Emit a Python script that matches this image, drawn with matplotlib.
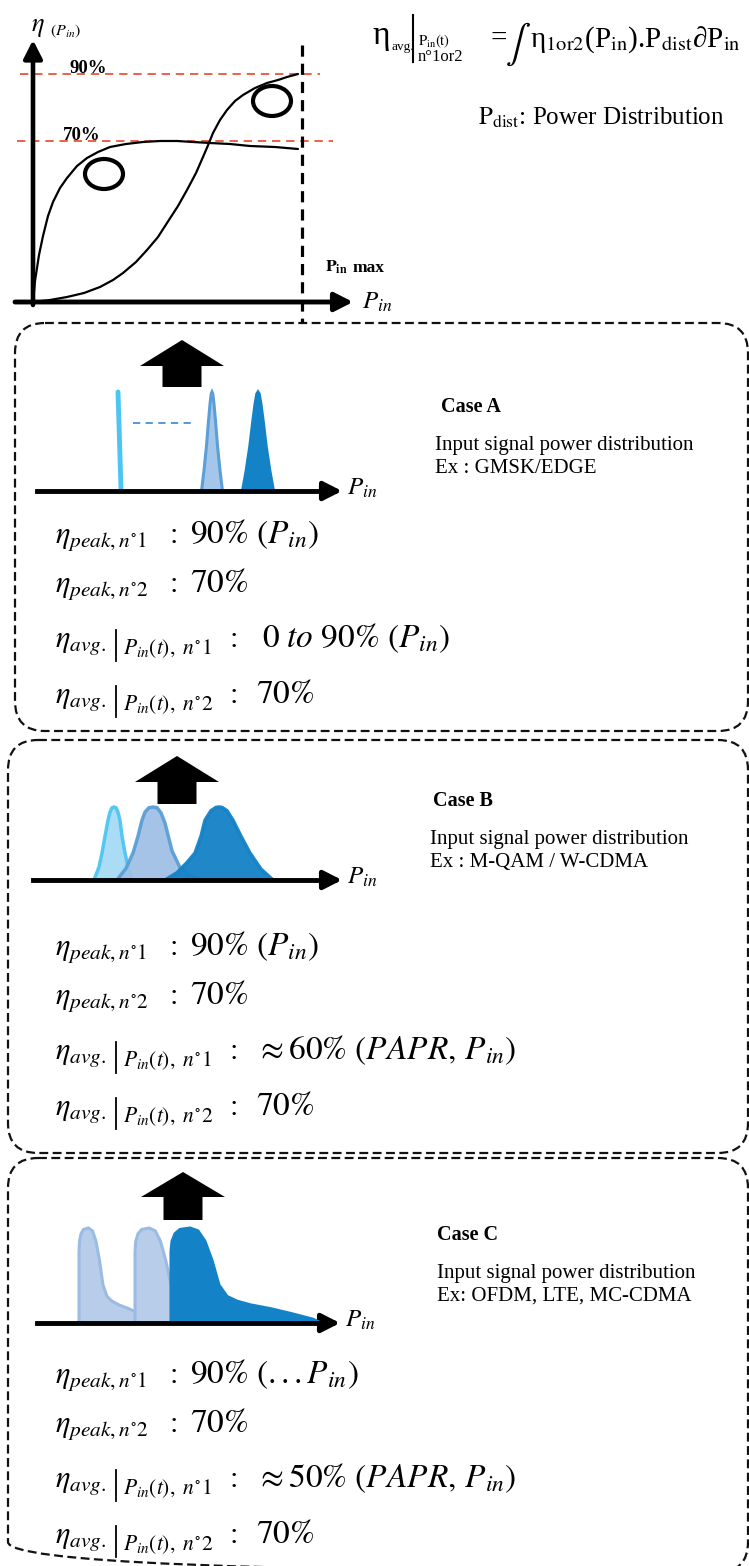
import numpy as np
import matplotlib.pyplot as plt
from matplotlib.patches import FancyBboxPatch, Polygon, Ellipse

plt.rcParams['font.family'] = ['Liberation Serif', 'DejaVu Serif']
plt.rcParams['mathtext.fontset'] = 'stix'

W, H = 749, 1566

# efficiency curves of the two amplifiers (canvas pixels)
curve1_x = [33, 34, 35, 37, 39, 43, 48, 53, 60, 67, 77, 87, 98, 110, 126, 143, 160, 177, 193, 210, 230, 250, 275, 298]
curve1_y = [302, 292, 281, 268, 255, 236, 216, 202, 188, 178, 166, 158, 152, 147, 144, 142, 141, 141, 142, 143, 144, 146, 147, 149]
curve2_x = [33, 50, 67, 84, 100, 113, 123, 136, 147, 158, 167, 178, 187, 196, 203, 209, 213, 220, 227, 235, 243, 255, 267, 278, 287, 298]
curve2_y = [302, 300, 297, 293, 287, 280, 273, 262, 250, 237, 223, 206, 190, 173, 157, 143, 133, 120, 110, 101, 95, 88, 83, 80, 77, 74]
level_labels = ['90%', '70%']
level_y = [74, 141]
level_x = [(20, 320), (17, 333)]
level_text_x = [70, 63]
ellipse_c = [(104, 174), (272, 101)]

# dashed boxes (left, top, right, bottom)
boxes = [(15, 323, 748, 731), (8, 740, 748, 1153), (8, 1158, 748, 1572)]

# up arrows per case
arrow_cx = [182, 177, 183]
arrow_tip = [340, 756, 1172]
arrow_base = [366, 782, 1197]
arrow_bottom = [387, 804, 1220]

# distribution axis per case
axis_y = [491, 880, 1323]
axis_x0 = [37, 33, 37]
axis_tip = [342, 342, 340]

# case A: narrow peaks
peak_frac_dx = [-1, -0.77, -0.53, -0.34, -0.19, -0.08, 0, 0.08, 0.19, 0.34, 0.53, 0.77, 1]
peak_frac_h = [0, 0.2, 0.45, 0.7, 0.88, 0.98, 1, 0.98, 0.88, 0.7, 0.45, 0.2, 0]
caseA_peak_c = [212, 258]
caseA_peak_hw = [10.5, 15.5]
caseA_peak_h = 99

# case B: bell shapes (offset from centre, fraction of height)
caseB_c = [114, 153, 219]
caseB_h = 73
caseB_dx = [
    [-20, -15, -12, -9, -6, -4, -2, 0, 2, 4, 6, 8, 11, 14, 18],
    [-36, -27, -20, -15, -11, -8, -4, 0, 4, 8, 12, 19, 27, 37, 48],
    [-54, -42, -32, -24, -18, -14, -8, -3, 0, 3, 8, 14, 22, 31, 42, 54],
]
caseB_fh = [
    [0, 0.18, 0.37, 0.6, 0.82, 0.93, 0.99, 1, 0.99, 0.93, 0.82, 0.6, 0.37, 0.18, 0],
    [0, 0.16, 0.37, 0.6, 0.82, 0.93, 0.99, 1, 0.99, 0.92, 0.78, 0.4, 0.17, 0.05, 0],
    [0, 0.1, 0.24, 0.37, 0.6, 0.82, 0.95, 0.995, 1, 0.995, 0.95, 0.82, 0.6, 0.37, 0.15, 0],
]

# case C: skewed (OFDM-like) shape, offset from rising edge
caseC_dx = [0, 0, 1, 4, 9, 19, 27, 34, 41, 48, 56, 66, 80, 100, 120, 142, 150]
caseC_fh = [0, 0.75, 0.86, 0.94, 0.985, 1.0, 0.97, 0.86, 0.66, 0.4, 0.28, 0.23, 0.19, 0.15, 0.1, 0.04, 0]
caseC_start = [79, 135, 171]
caseC_scale = [0.5, 0.75, 1.0]
caseC_h = 95

case_titles = ['Case A', 'Case B', 'Case C']
case_examples = ['Ex : GMSK/EDGE', 'Ex : M-QAM / W-CDMA', 'Ex: OFDM, LTE, MC-CDMA']
case_text_x = [(441, 435), (433, 430), (437, 437)]
case_text_y = [412, 806, 1240]

# efficiency statements
peak1_vals = [r'$90\%\ (P_{in})$', r'$90\%\ (P_{in})$', r'$90\%\ (...P_{in})$']
peak2_vals = [r'$70\%$'] * 3
avg1_vals = [r'$0\ to\ 90\%\ (P_{in})$', r'$\approx 60\%\ (PAPR,\, P_{in})$', r'$\approx 50\%\ (PAPR,\, P_{in})$']
avg1_x = [262, 256, 256]
avg2_vals = [r'$70\%$'] * 3
metric_y = [543, 955, 1383]

RED = '#e9452a'
CYAN = '#4dc5f2'
MID = '#5b9fd6'
DARK = '#1482c6'

fig = plt.figure(figsize=(W / 100, H / 100), dpi=100)
ax = fig.add_axes([0, 0, 1, 1])
ax.set_xlim(0, W)
ax.set_ylim(H, 0)
ax.axis('off')


def arrow_line(x0, y0, x1, y1, lw=3.5):
    ax.annotate('', xy=(x1, y1), xytext=(x0, y0),
                arrowprops=dict(arrowstyle='-|>,head_length=0.55,head_width=0.28',
                                lw=lw, color='black', shrinkA=0, shrinkB=0,
                                mutation_scale=20))


# ---- top efficiency chart
for lab, y, (xa, xb), tx in zip(level_labels, level_y, level_x, level_text_x):
    ax.plot([xa, xb], [y, y], color=RED, lw=1.2, ls=(0, (5, 3.5)), zorder=1)
    ax.text(tx, y - 1, lab, fontsize=13.5, fontweight='bold', va='baseline')

ax.plot([302, 302], [45, 322], color='black', lw=2.3, ls=(0, (3.5, 2.2)))
ax.plot(curve1_x, curve1_y, color='black', lw=1.6, solid_capstyle='round')
ax.plot(curve2_x, curve2_y, color='black', lw=1.6, solid_capstyle='round')
for c in ellipse_c:
    ax.add_patch(Ellipse(c, 38, 30, fill=False, lw=3, ec='black'))
arrow_line(33, 305, 33, 40, lw=3.3)
arrow_line(15, 302, 353, 302, lw=3.5)
ax.text(31, 31, r'$\eta$', fontsize=19, va='baseline')
ax.text(50, 35, r'$(P_{in})$', fontsize=11.5, va='baseline')
ax.text(362, 309, r'$P_{in}$', fontsize=18, va='baseline')
ax.text(325, 272, r'$\mathbf{P_{in}}$', fontsize=12.5, va='baseline')
ax.text(353, 272, 'max', fontsize=12.5, fontweight='bold', va='baseline')

# formula at top right
ax.text(372, 44, 'η', fontsize=24, va='baseline')
ax.text(392, 50, 'avg.', fontsize=9.5, va='baseline')
ax.plot([413, 413], [15, 62], color='black', lw=1.5)
ax.text(418, 45, r'$\mathrm{P_{in}(t)}$', fontsize=10.5, va='baseline')
ax.text(418, 61, 'n°1or2', fontsize=12, va='baseline')
ax.text(490, 46, '=', fontsize=21, va='baseline')
ax.text(505, 54, r'$\int$', fontsize=27, va='baseline')
ax.text(530, 47, 'η$_{\\mathrm{1or2}}$(P$_{\\mathrm{in}}$).P$_{\\mathrm{dist}}$∂P$_{\\mathrm{in}}$',
        fontsize=21, va='baseline')
ax.text(478, 124, r'$\mathrm{P_{dist}}$: Power Distribution', fontsize=18, va='baseline')

# ---- boxes
for (l, t, r, b) in boxes:
    ax.add_patch(FancyBboxPatch((l, t), r - l, b - t,
                                boxstyle='round,pad=0,rounding_size=30',
                                fill=False, ec='#111111', lw=1.6,
                                ls=(0, (4, 2)), clip_on=False))

# ---- up arrows and distribution axes
for cx, tp, bs, bt in zip(arrow_cx, arrow_tip, arrow_base, arrow_bottom):
    pts = [(cx, tp), (cx + 42, bs), (cx + 19.5, bs), (cx + 19.5, bt),
           (cx - 19.5, bt), (cx - 19.5, bs), (cx - 42, bs)]
    ax.add_patch(Polygon(pts, closed=True, fc='black', ec='none'))

# case A shapes
ax.plot([118, 121], [392, 489], color=CYAN, lw=3.5, solid_capstyle='round')
ax.plot([133, 192], [423, 423], color='#4a8fd6', lw=1.3, ls=(0, (4, 3)))
for c, hw, fc, ec in zip(caseA_peak_c, caseA_peak_hw, ['#a3c6ea', DARK], [MID, DARK]):
    xs = c + np.array(peak_frac_dx) * hw
    ys = axis_y[0] - np.array(peak_frac_h) * caseA_peak_h
    ax.fill(xs, ys, fc=fc, ec=ec, lw=2.2, zorder=2)

# case B shapes
for c, dx, fh, fc, ec, z in zip(caseB_c, caseB_dx, caseB_fh,
                                ['#a6dbf5', '#9fc0e6', DARK], [CYAN, MID, DARK], [2, 3, 4]):
    xs = c + np.array(dx)
    ys = axis_y[1] - np.array(fh) * caseB_h
    ax.fill(xs, ys, fc=fc, ec=ec, lw=2.5, zorder=z, alpha=0.95)

# case C shapes
for st, sc, fc, ec, z in zip(caseC_start, caseC_scale,
                             ['#b8cdea', '#b8cdea', DARK], ['#9bbbe3', '#9bbbe3', DARK], [2, 3, 4]):
    xs = st + np.array(caseC_dx) * sc
    ys = axis_y[2] - np.array(caseC_fh) * caseC_h
    ax.fill(xs, ys, fc=fc, ec=ec, lw=2.2, zorder=z)

for y, x0, xt in zip(axis_y, axis_x0, axis_tip):
    ax.plot([x0, xt - 8], [y, y], color='black', lw=3.5, zorder=5)
    arrow_line(xt - 12, y, xt, y, lw=3.5)
    ax.text(xt + 5, y + 4, r'$P_{in}$', fontsize=18, va='baseline')

# ---- case descriptions
for title, ex, (tx1, tx2), ty in zip(case_titles, case_examples, case_text_x, case_text_y):
    ax.text(tx1, ty, title, fontsize=14.5, fontweight='bold', va='baseline')
    ax.text(tx2, ty + 38, 'Input signal power distribution', fontsize=15, va='baseline')
    ax.text(tx2, ty + 61, ex, fontsize=15, va='baseline')

# ---- efficiency statements
FS = 22
FV = 24
for b, p1, p2, a1, a1x, a2 in zip(metric_y, peak1_vals, peak2_vals, avg1_vals, avg1_x, avg2_vals):
    for dy, n, val in [(0, '1', p1), (49, '2', p2)]:
        ax.text(55, b + dy, r'$\eta_{peak,n^{\circ}%s}$' % n, fontsize=FS, va='baseline')
        ax.text(169, b + dy, ':', fontsize=FS, va='baseline', family='STIXGeneral')
        ax.text(190, b + dy, val, fontsize=FV, va='baseline')
    for dy, n, val, vx in [(104, '1', a1, a1x), (160, '2', a2, 256)]:
        yb = b + dy
        ax.text(55, yb, r'$\eta_{avg.}$', fontsize=FS, va='baseline')
        ax.plot([116, 116], [yb - 17, yb + 14], color='black', lw=1.3)
        ax.text(123, yb + 7, r'$P_{in}(t),\ n^{\circ}%s$' % n, fontsize=15.5, va='baseline')
        ax.text(229, yb, ':', fontsize=FS, va='baseline', family='STIXGeneral')
        ax.text(vx, yb, val, fontsize=FV, va='baseline')

fig.savefig('out.png', dpi=100)
